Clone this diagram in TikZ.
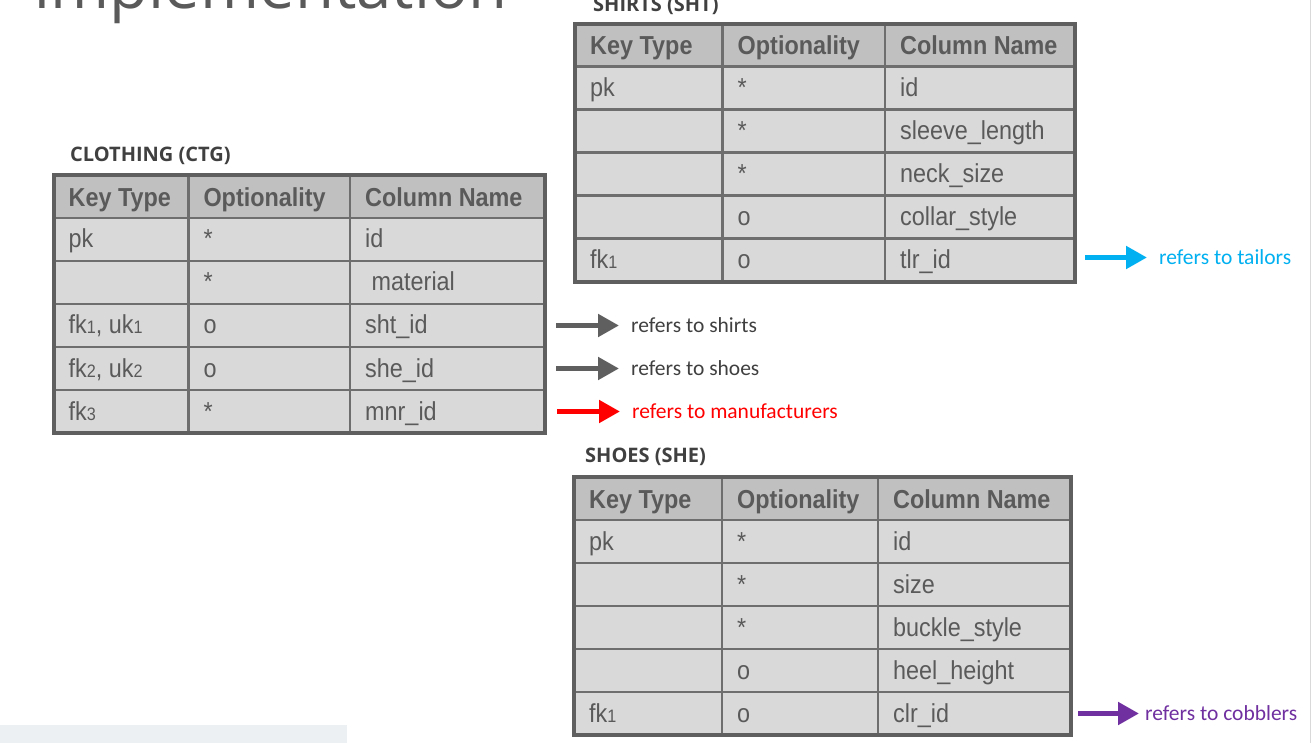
\documentclass[tikz,border=0pt]{standalone}
\usepackage{fontspec}
\setmainfont{Liberation Sans}
\newfontfamily\cellfont[FakeStretch=0.9]{Liberation Sans}
\newfontfamily\titlefont{Open Sans}
\newfontfamily\notefont{Carlito}
\usetikzlibrary{arrows.meta}
\definecolor{hdrgray}{HTML}{C0C0C0}
\definecolor{rowgray}{HTML}{D9D9D9}
\definecolor{linegray}{HTML}{6E6E6E}
\definecolor{framegray}{HTML}{5F5F5F}
\definecolor{txtgray}{HTML}{5A5A5A}
\definecolor{capgray}{HTML}{404040}
\definecolor{fkcyan}{HTML}{00B0F0}
\definecolor{fkred}{HTML}{FF0000}
\definecolor{fkpurple}{HTML}{7030A0}
\definecolor{barblue}{HTML}{EDF0F2}
\newcommand{\sm}[1]{{\fontsize{18}{18}\selectfont #1}}
\begin{document}
\begin{tikzpicture}[x=1pt,y=-1pt]
\tikzstyle{grid} = [draw=linegray, line width=2.5pt];
\tikzstyle{frame} = [draw=framegray, line width=4pt];
\tikzstyle{hcell} = [anchor=base west, inner sep=0pt, text=txtgray, font=\cellfont\bfseries\fontsize{26}{26}\selectfont];
\tikzstyle{cell} = [anchor=base west, inner sep=0pt, text=txtgray, font=\cellfont\fontsize{26}{26}\selectfont];
\tikzstyle{tname} = [anchor=base west, inner sep=0pt, text=capgray, font=\titlefont\bfseries\fontsize{20}{20}\selectfont];
\tikzstyle{note} = [anchor=west, inner xsep=12pt, inner ysep=0pt, font=\notefont\fontsize{21.5}{21.5}\selectfont];
\tikzstyle{fk} = [line width=5pt, -{Triangle[length=21pt,width=22pt]}];
\useasboundingbox (0,0) rectangle (1312,743);
\clip (0,0) rectangle (1312,743);
\fill[white] (0,0) rectangle (1312,743);
\fill[barblue] (0,725) rectangle (347,743);
\draw[gray!30, line width=1.2pt] (1310.5,0) -- (1310.5,743);
\node[anchor=base west, inner sep=0pt, text=txtgray, font=\titlefont\fontsize{63.5}{63.5}\selectfont] (title) at (33,9) {Implementation};
% clothing
\node[tname] (ctg) at (70,162) {CLOTHING (CTG)};
\fill[rowgray] (53.7,175) rectangle (544.7,433);
\fill[hdrgray] (53.7,175) rectangle (544.7,218);
\foreach \y in {218,261,304,347,390} \draw[grid] (53.7,\y) -- (544.7,\y);
\foreach \x in {188.3,350} \draw[grid] (\x,175) -- (\x,433);
\draw[frame] (53.7,175) rectangle (544.7,433);
\node[hcell] (ctg-h1) at (68.5,206.4) {Key Type};
\node[hcell] (ctg-h2) at (203.3,206.4) {Optionality};
\node[hcell] (ctg-h3) at (365,206.4) {Column Name};
\node[cell] (ctg-k1) at (68.5,248) {pk};
\node[cell] (ctg-o1) at (203.3,248) {*};
\node[cell] (ctg-c1) at (365,248) {id};
\node[cell] (ctg-o2) at (203.3,291) {*};
\node[cell] (ctg-c2) at (365,291) {\ material};
\node[cell] (ctg-k3) at (68.5,334) {fk\sm{1}, uk\sm{1}};
\node[cell] (ctg-o3) at (203.3,334) {o};
\node[cell] (ctg-c3) at (365,334) {sht\_id};
\node[cell] (ctg-k4) at (68.5,377) {fk\sm{2}, uk\sm{2}};
\node[cell] (ctg-o4) at (203.3,377) {o};
\node[cell] (ctg-c4) at (365,377) {she\_id};
\node[cell] (ctg-k5) at (68.5,420) {fk\sm{3}};
\node[cell] (ctg-o5) at (203.3,420) {*};
\node[cell] (ctg-c5) at (365,420) {mnr\_id};
% shirts
\node[tname] (sht) at (593,12) {SHIRTS (SHT)};
\fill[rowgray] (575,23.7) rectangle (1075,281.7);
\fill[hdrgray] (575,23.7) rectangle (1075,66.7);
\foreach \y in {66.7,109.7,152.7,195.7,238.7} \draw[grid] (575,\y) -- (1075,\y);
\foreach \x in {722.5,885} \draw[grid] (\x,23.7) -- (\x,281.7);
\draw[frame] (575,23.7) rectangle (1075,281.7);
\node[hcell] (sht-h1) at (590,55) {Key Type};
\node[hcell] (sht-h2) at (737.5,55) {Optionality};
\node[hcell] (sht-h3) at (900,55) {Column Name};
\node[cell] (sht-k1) at (590,96.7) {pk};
\node[cell] (sht-o1) at (737.5,96.7) {*};
\node[cell] (sht-c1) at (900,96.7) {id};
\node[cell] (sht-o2) at (737.5,139.7) {*};
\node[cell] (sht-c2) at (900,139.7) {sleeve\_length};
\node[cell] (sht-o3) at (737.5,182.7) {*};
\node[cell] (sht-c3) at (900,182.7) {neck\_size};
\node[cell] (sht-o4) at (737.5,225.7) {o};
\node[cell] (sht-c4) at (900,225.7) {collar\_style};
\node[cell] (sht-k5) at (590,268.7) {fk\sm{1}};
\node[cell] (sht-o5) at (737.5,268.7) {o};
\node[cell] (sht-c5) at (900,268.7) {tlr\_id};
% shoes
\node[tname] (she) at (585,462) {SHOES (SHE)};
\fill[rowgray] (574,477) rectangle (1071,735);
\fill[hdrgray] (574,477) rectangle (1071,520);
\foreach \y in {520,563,606,649,692} \draw[grid] (574,\y) -- (1071,\y);
\foreach \x in {722,878} \draw[grid] (\x,477) -- (\x,735);
\draw[frame] (574,477) rectangle (1071,735);
\node[hcell] (she-h1) at (589,508.4) {Key Type};
\node[hcell] (she-h2) at (737,508.4) {Optionality};
\node[hcell] (she-h3) at (893,508.4) {Column Name};
\node[cell] (she-k1) at (589,550) {pk};
\node[cell] (she-o1) at (737,550) {*};
\node[cell] (she-c1) at (893,550) {id};
\node[cell] (she-o2) at (737,593) {*};
\node[cell] (she-c2) at (893,593) {size};
\node[cell] (she-o3) at (737,636) {*};
\node[cell] (she-c3) at (893,636) {buckle\_style};
\node[cell] (she-o4) at (737,679) {o};
\node[cell] (she-c4) at (893,679) {heel\_height};
\node[cell] (she-k5) at (589,722) {fk\sm{1}};
\node[cell] (she-o5) at (737,722) {o};
\node[cell] (she-c5) at (893,722) {clr\_id};
% references
\coordinate (fk-sht) at (556,325.5);
\coordinate (fk-she) at (556,368.5);
\coordinate (fk-mnr) at (557,411.5);
\coordinate (fk-tlr) at (1085,257.5);
\coordinate (fk-clr) at (1078,713.5);
\node[note, text=capgray] (ref-sht) at (619,325.5) {refers to shirts};
\node[note, text=capgray] (ref-she) at (619,368.5) {refers to shoes};
\node[note, text=fkred] (ref-mnr) at (620,411.5) {refers to manufacturers};
\node[note, text=fkcyan] (ref-tlr) at (1147,257.5) {refers to tailors};
\node[note, text=fkpurple, inner xsep=6pt] (ref-clr) at (1139,713.5) {refers to cobblers};
\draw[fk, framegray] (fk-sht) -- (ref-sht.west);
\draw[fk, framegray] (fk-she) -- (ref-she.west);
\draw[fk, fkred] (fk-mnr) -- (ref-mnr.west);
\draw[fk, fkcyan] (fk-tlr) -- (ref-tlr.west);
\draw[fk, fkpurple] (fk-clr) -- (ref-clr.west);
\end{tikzpicture}
\end{document}
